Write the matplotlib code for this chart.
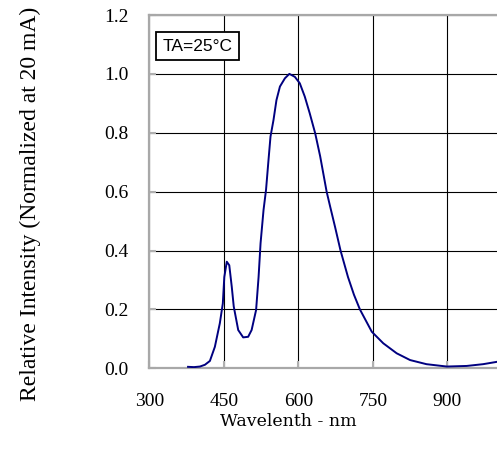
import matplotlib
matplotlib.use("Agg")
import matplotlib.pyplot as plt

wavelength = [378, 390, 402, 412, 422, 432, 442, 448, 451, 456, 461, 466, 470, 479,
              489, 499, 506, 515, 520, 524, 530, 535, 540, 544, 550, 556, 563, 573,
              582, 593, 603, 613, 623, 634, 644, 657, 664, 674, 685, 700, 712, 724,
              748, 771, 798, 825, 858, 899, 939, 972, 1000]
intensity = [0.005, 0.004, 0.006, 0.012, 0.025, 0.073, 0.153, 0.22, 0.31, 0.362, 0.35,
             0.277, 0.21, 0.13, 0.105, 0.107, 0.13, 0.198, 0.31, 0.425, 0.538, 0.606,
             0.708, 0.787, 0.843, 0.911, 0.957, 0.985, 1.0, 0.99, 0.968, 0.923, 0.866,
             0.798, 0.72, 0.60, 0.55, 0.48, 0.40, 0.31, 0.25, 0.20, 0.124, 0.085,
             0.051, 0.028, 0.014, 0.006, 0.008, 0.014, 0.022]
xticks = [300, 450, 600, 750, 900]
yticks = [0.0, 0.2, 0.4, 0.6, 0.8, 1.0, 1.2]
ytick_labels = ["0.0", "0.2", "0.4", "0.6", "0.8", "1.0", "1.2"]

W, H = 497, 461
fig = plt.figure(figsize=(W / 100, H / 100), dpi=100)
ax = fig.add_axes([149.3 / W, 1 - 368.3 / H, (497 - 149.3) / W, (368.3 - 15) / H])

ax.plot(wavelength, intensity, color="#000080", lw=1.4, zorder=3)
ax.set_xlim(300, 1000)
ax.set_ylim(0, 1.2)
ax.set_xticks(xticks)
ax.set_yticks(yticks)
ax.set_yticklabels(ytick_labels)
ax.grid(True, color="black", lw=0.8)
ax.set_axisbelow(True)

for s in ["left", "bottom", "top"]:
    ax.spines[s].set_color("#a8a8a8")
    ax.spines[s].set_linewidth(1.6)
ax.spines["right"].set_visible(False)

ax.tick_params(axis="both", direction="in", color="#b0b0b0", length=5, width=1.5,
               labelsize=14)
ax.tick_params(axis="y", pad=15)
ax.tick_params(axis="x", pad=18)
for lab in ax.get_xticklabels() + ax.get_yticklabels():
    lab.set_family("Liberation Serif")

ax.text(0.039, 0.912, "TA=25\u00b0C", transform=ax.transAxes, family="Liberation Sans",
        fontsize=12.5, va="center", ha="left",
        bbox=dict(boxstyle="square,pad=0.38", fc="white", ec="black", lw=1.3), zorder=5)

fig.text(30 / W, 1 - 204 / H, "Relative Intensity (Normalized at 20 mA)", rotation=90,
         ha="center", va="center", family="Liberation Serif", fontsize=17)
fig.text(288 / W, 1 - 422 / H, "Wavelenth - nm", ha="center", va="center",
         family="DejaVu Serif", fontsize=12.5)

fig.savefig("out.png", dpi=100)
